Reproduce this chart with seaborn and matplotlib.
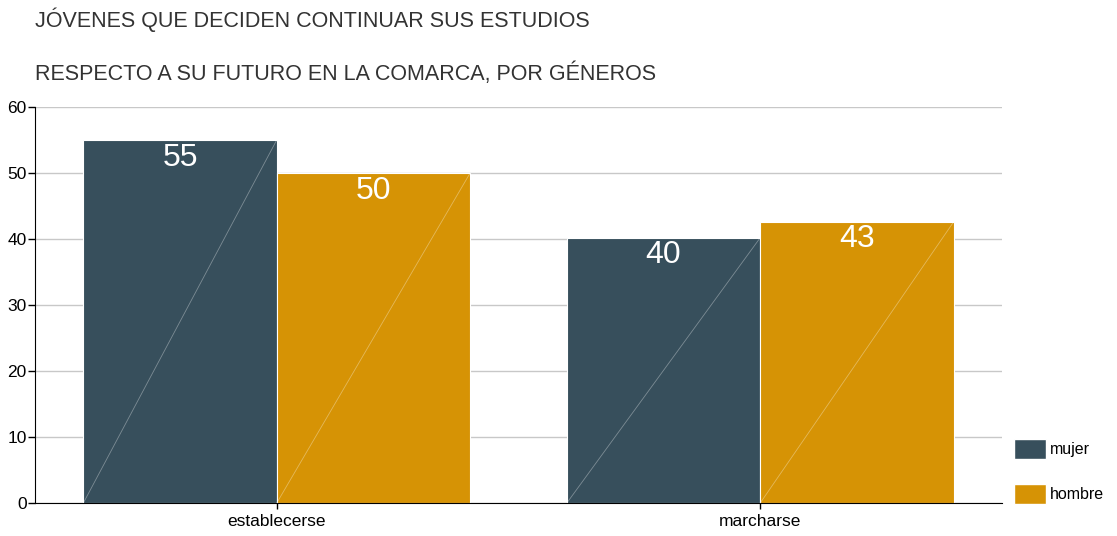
import pandas as pd
import numpy as np
import matplotlib.pyplot as plt
import seaborn as sns
from matplotlib.patches import Patch

# datos
categorias = ["establecerse", "marcharse"]
generos = ["mujer", "hombre"]
valores_mujer = [55.0, 40.2]
valores_hombre = [50.0, 42.6]
etiquetas_mujer = ["55", "40"]
etiquetas_hombre = ["50", "43"]
colores = ["#374f5c", "#d69305"]

df = pd.DataFrame({
    "categoria": categorias * 2,
    "genero": ["mujer"] * len(categorias) + ["hombre"] * len(categorias),
    "valor": valores_mujer + valores_hombre,
})

sns.set_style("white")
plt.rcParams["font.family"] = ["Liberation Sans", "DejaVu Sans"]

fig = plt.figure(figsize=(11.17, 5.36), dpi=100)
ax = fig.add_axes([35 / 1117, 33 / 536, 967 / 1117, 396 / 536])

sns.barplot(data=df, x="categoria", y="valor", hue="genero", order=categorias,
            hue_order=generos, palette=colores, saturation=1, width=0.8,
            edgecolor="white", linewidth=0.8, ax=ax, legend=False)

ax.set_xlim(-0.5, 1.5)
ax.set_ylim(0, 60)
ax.set_yticks(range(0, 61, 10))
ax.yaxis.grid(True, color="#c8c8c8", linewidth=1)
ax.set_axisbelow(True)
ax.set_xlabel("")
ax.set_ylabel("")
for s in ["top", "right"]:
    ax.spines[s].set_visible(False)
ax.spines["left"].set_color("black")
ax.spines["bottom"].set_color("black")
ax.tick_params(axis="y", left=True, length=5, width=1, labelsize=12.5, pad=1,
               color="black", labelcolor="black")
ax.tick_params(axis="x", bottom=True, length=4, width=1, labelsize=12.5, pad=4,
               color="black", labelcolor="black")

# diagonal fina y etiqueta blanca en cada barra
for bars, cont_labels in zip(ax.containers, [etiquetas_mujer, etiquetas_hombre]):
    for p, lab in zip(bars, cont_labels):
        x0, w, h = p.get_x(), p.get_width(), p.get_height()
        ax.plot([x0, x0 + w], [0, h], color="white", alpha=0.35, linewidth=0.6, zorder=3)
        ax.text(x0 + w / 2, h - 0.4, lab, ha="center", va="top", color="white",
                fontsize=23, zorder=4)

# leyenda a la derecha
handles = [Patch(facecolor=c, edgecolor="white", label=g) for c, g in zip(colores, generos)]
leg = fig.legend(handles=handles, loc="lower left", bbox_to_anchor=(1000 / 1117, 18 / 536),
                 frameon=False, fontsize=11.5, handlelength=2.0, handleheight=1.5,
                 labelspacing=1.6, handletextpad=0.25)
for t in leg.get_texts():
    t.set_color("black")

fig.text(35 / 1117, 1 - 20 / 536, "JÓVENES QUE DECIDEN CONTINUAR SUS ESTUDIOS",
         fontsize=15.5, color="#333333", va="center")
fig.text(35 / 1117, 1 - 74 / 536, "RESPECTO A SU FUTURO EN LA COMARCA, POR GÉNEROS",
         fontsize=15.5, color="#333333", va="center")

fig.savefig("out.png", dpi=100)
